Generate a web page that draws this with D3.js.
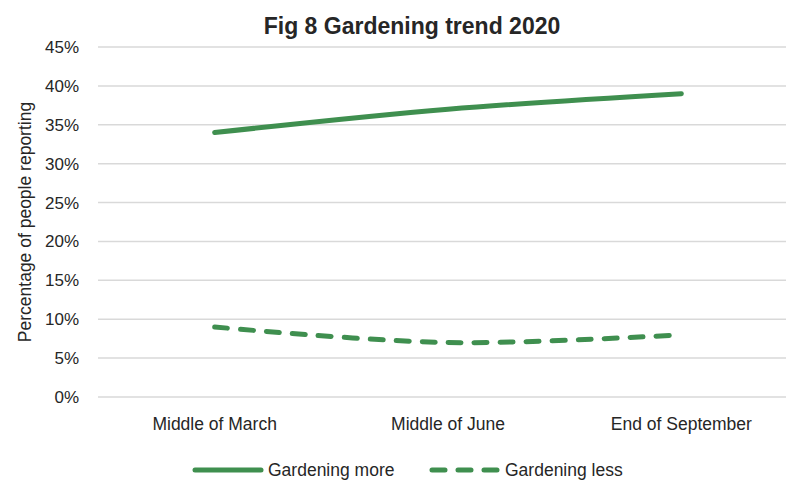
<!DOCTYPE html>
<html>
<head>
<meta charset="utf-8">
<script src="https://cdn.jsdelivr.net/npm/d3@7"></script>
<style>
  body { margin: 0; background: #fff; }
  text { font-family: "Liberation Sans Narrow", "Arial Narrow", "Liberation Sans", Arial, sans-serif; fill: #262626; }
</style>
</head>
<body>
<div id="chart"></div>
<script>
// data
var categories = ["Middle of March", "Middle of June", "End of September"];
var gardeningMore = [0.34, 0.37, 0.39];
var gardeningLess = [0.09, 0.07, 0.08];
var yTicks = [0, 0.05, 0.10, 0.15, 0.20, 0.25, 0.30, 0.35, 0.40, 0.45];

var W = 786, H = 482;
var margin = { top: 47, left: 98, bottom: 85, right: -12 };
var green = "#3f8f4f";

var svg = d3.select("#chart").append("svg")
    .attr("width", W)
    .attr("height", H);

var x = d3.scaleBand()
    .domain(categories)
    .range([margin.left, W - margin.right]);

var y = d3.scaleLinear()
    .domain([0, 0.45])
    .range([H - margin.bottom, margin.top]);

// gridlines
svg.append("g")
    .selectAll("line")
    .data(yTicks)
    .enter()
    .append("line")
    .attr("x1", margin.left)
    .attr("x2", W)
    .attr("y1", d => y(d))
    .attr("y2", d => y(d))
    .attr("stroke", "#d9d9d9")
    .attr("stroke-width", 1.5);

var yAxis = d3.axisLeft(y)
    .tickValues(yTicks)
    .tickFormat(d3.format(".0%"))
    .tickSize(0)
    .tickPadding(19);

svg.append("g")
    .attr("transform", "translate(" + margin.left + ",0)")
    .call(yAxis)
    .call(g => g.select(".domain").remove())
    .selectAll("text")
    .attr("font-size", 17)
    .attr("fill", "#404040")
    .style("font-family", "Liberation Sans Narrow, Arial Narrow, sans-serif");

var xAxis = d3.axisBottom(x).tickSize(0).tickPadding(21);

svg.append("g")
    .attr("transform", "translate(0," + y(0) + ")")
    .call(xAxis)
    .call(g => g.select(".domain").remove())
    .selectAll("text")
    .attr("font-size", 17.5)
    .attr("fill", "#404040")
    .style("font-family", "Liberation Sans Narrow, Arial Narrow, sans-serif");

var line = d3.line()
    .x((d, i) => x(categories[i]) + x.bandwidth() / 2)
    .y(d => y(d))
    .curve(d3.curveCardinal.tension(0));

svg.append("path")
    .datum(gardeningMore)
    .attr("d", line)
    .attr("fill", "none")
    .attr("stroke", green)
    .attr("stroke-width", 5)
    .attr("stroke-linecap", "round");

svg.append("path")
    .datum(gardeningLess)
    .attr("d", line)
    .attr("fill", "none")
    .attr("stroke", green)
    .attr("stroke-width", 5)
    .attr("stroke-linecap", "round")
    .attr("stroke-dasharray", "13,13");

// title
svg.append("text")
    .attr("x", 412)
    .attr("y", 34)
    .attr("text-anchor", "middle")
    .attr("font-size", 23)
    .attr("font-weight", "bold")
    .attr("fill", "#000")
    .text("Fig 8 Gardening trend 2020");

// y axis title
svg.append("text")
    .attr("transform", "translate(31," + ((y(0) + y(0.45)) / 2) + ") rotate(-90)")
    .attr("text-anchor", "middle")
    .attr("font-size", 17.5)
    .attr("fill", "#404040")
    .text("Percentage of people reporting");

// legend
var legend = [
    { name: "Gardening more", dash: null, x: 193 },
    { name: "Gardening less", dash: "13,13", x: 430 }
];

var lg = svg.append("g")
    .selectAll("g")
    .data(legend)
    .enter()
    .append("g")
    .attr("transform", d => "translate(" + d.x + ",470)");

lg.append("line")
    .attr("x1", 2)
    .attr("x2", 68)
    .attr("stroke", green)
    .attr("stroke-width", 5)
    .attr("stroke-linecap", "round")
    .attr("stroke-dasharray", d => d.dash);

lg.append("text")
    .attr("x", 75)
    .attr("y", 6)
    .attr("font-size", 17.5)
    .attr("fill", "#404040")
    .text(d => d.name);
</script>
</body>
</html>
